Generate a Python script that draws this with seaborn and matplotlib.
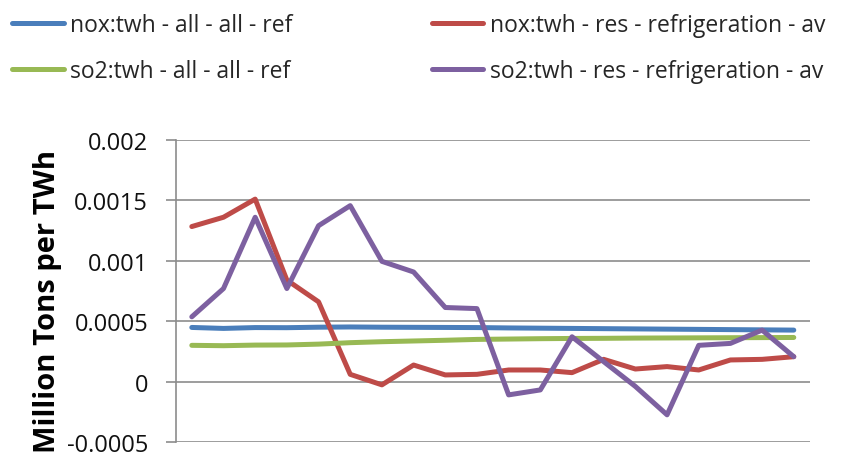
import numpy as np
import pandas as pd
import matplotlib
matplotlib.use("Agg")
import matplotlib.pyplot as plt
import seaborn as sns

# Period index (20 steps, no labels shown on the category axis)
periods = list(range(20))

nox_all_ref = [0.000448, 0.000440, 0.000447, 0.000446, 0.000450, 0.000452, 0.000450,
               0.000449, 0.000448, 0.000447, 0.000444, 0.000442, 0.000440, 0.000438,
               0.000436, 0.000434, 0.000432, 0.000430, 0.000428, 0.000426]
nox_res_refrig_av = [0.001283, 0.001360, 0.001510, 0.000840, 0.000660, 0.000060,
                     -0.000027, 0.000137, 0.000055, 0.000060, 0.000096, 0.000096,
                     0.000074, 0.000184, 0.000104, 0.000124, 0.000096, 0.000179,
                     0.000184, 0.000206]
so2_all_ref = [0.000300, 0.000297, 0.000302, 0.000303, 0.000310, 0.000322, 0.000330,
               0.000336, 0.000342, 0.000349, 0.000352, 0.000355, 0.000357, 0.000358,
               0.000360, 0.000361, 0.000362, 0.000363, 0.000364, 0.000365]
so2_res_refrig_av = [0.000536, 0.000770, 0.001360, 0.000770, 0.001290, 0.001456,
                     0.000995, 0.000907, 0.000613, 0.000604, -0.000110, -0.000069,
                     0.000371, 0.000165, -0.000040, -0.000275, 0.000300, 0.000316,
                     0.000426, 0.000206]

series_names = ["nox:twh - all - all - ref",
                "nox:twh - res - refrigeration - av",
                "so2:twh - all - all - ref",
                "so2:twh - res - refrigeration - av"]
series_values = [nox_all_ref, nox_res_refrig_av, so2_all_ref, so2_res_refrig_av]
series_colors = ["#4A7EBB", "#BE4B48", "#98B954", "#7D60A0"]

y_ticks = [-0.0005, 0, 0.0005, 0.001, 0.0015, 0.002]
y_tick_labels = ["-0.0005", "0", "0.0005", "0.001", "0.0015", "0.002"]

df = pd.concat(
    [pd.DataFrame({"period": periods, "value": vals, "series": name})
     for name, vals in zip(series_names, series_values)],
    ignore_index=True,
)

sns.set_theme(style="white")
plt.rcParams["font.family"] = ["Open Sans", "DejaVu Sans"]

fig = plt.figure(figsize=(8.46, 4.56), dpi=100)
ax = fig.add_axes([0.208, 0.0285, 0.749, 0.6625])

sns.lineplot(data=df, x="period", y="value", hue="series",
             palette=dict(zip(series_names, series_colors)),
             hue_order=series_names, linewidth=3.6, ax=ax, legend=False,
             sort=False)
for ln in ax.lines:
    ln.set_solid_capstyle("round")
    ln.set_solid_joinstyle("round")

ax.set_xlim(-0.5, 19.5)
ax.set_ylim(-0.0005, 0.002)
ax.set_xticks([])
ax.set_yticks(y_ticks)
ax.set_yticklabels(y_tick_labels, fontsize=17, color="#111111")
ax.yaxis.grid(True, color="#8C8C8C", linewidth=1.2)
ax.set_axisbelow(True)
for side in ["top", "right", "bottom"]:
    ax.spines[side].set_visible(False)
ax.spines["left"].set_color("#8C8C8C")
ax.spines["left"].set_linewidth(1.2)
ax.tick_params(axis="y", which="both", left=True, length=7, width=1.2,
               color="#8C8C8C", pad=13)
ax.set_xlabel("")
ax.set_ylabel("Million Tons per TWh", fontsize=21, fontweight="bold",
              color="#000000", va="center")
ax.yaxis.set_label_coords(-0.202, 0.467)

# legend laid out row by row: nox on the first row, so2 on the second
order = [0, 2, 1, 3]
handles = [plt.Line2D([], [], color=series_colors[i], linewidth=3.6,
                      solid_capstyle="round") for i in order]
labels = [series_names[i] for i in order]
fig.legend(handles, labels, loc="upper left", bbox_to_anchor=(-0.002, 1.0),
           ncol=2, frameon=False, fontsize=16.5, handlelength=2.25,
           handletextpad=0.3, columnspacing=6.05, labelspacing=0.95,
           borderaxespad=0.2)

fig.savefig("out.png", dpi=100)
